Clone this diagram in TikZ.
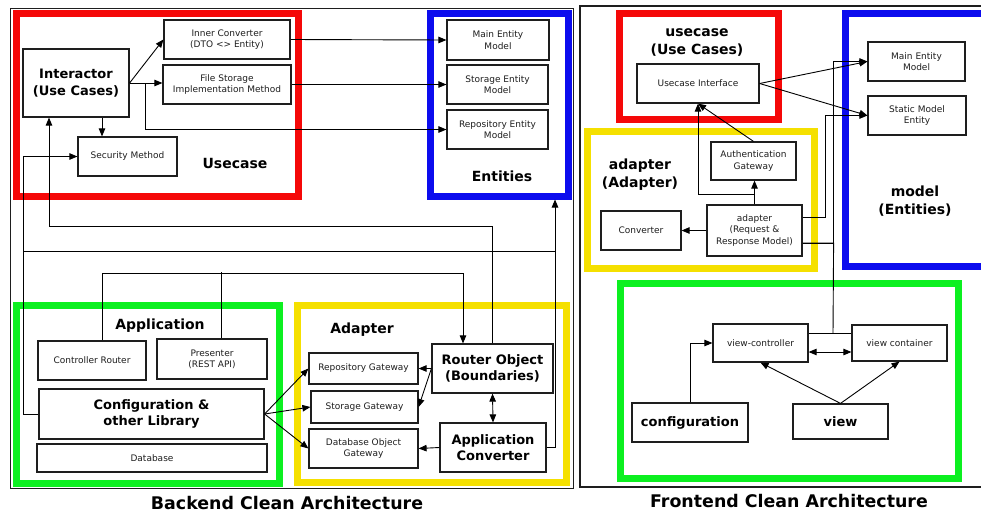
\documentclass[tikz,border=0pt]{standalone}
\usepackage{fontspec}
\setmainfont{DejaVu Sans}
\usetikzlibrary{arrows.meta,calc}
\definecolor{cred}{RGB}{245,8,8}
\definecolor{cblue}{RGB}{12,12,238}
\definecolor{cgreen}{RGB}{12,240,32}
\definecolor{cyellow}{RGB}{245,224,0}
\definecolor{ink}{RGB}{30,30,30}
\begin{document}
\begin{tikzpicture}[x=1pt,y=-1pt,
 box/.style={draw=ink, line width=1.2pt, fill=white, inner sep=0pt, align=center, font=\fontsize{9}{11.3}\selectfont, text=ink},
 bbox/.style={box, font=\fontsize{13}{16.5}\selectfont\bfseries, text=black},
 wh/.style 2 args={minimum width=#1pt, minimum height=#2pt},
 layer/.style={draw=#1, line width=7pt, inner sep=0pt},
 arr/.style={line width=0.9pt, -{Triangle[length=8pt,width=6.5pt]}},
 dbl/.style={line width=0.9pt, {Triangle[length=8pt,width=6.5pt]}-{Triangle[length=8pt,width=6.5pt]}},
 ln/.style={line width=0.9pt},
 lbl/.style={font=\fontsize{14}{18}\selectfont\bfseries, align=center},
 ttl/.style={font=\fontsize{17.4}{20}\selectfont\bfseries},
 frame/.style={draw=ink, line width=1.2pt}
]
\useasboundingbox (0,0) rectangle (981,512);
\fill[white] (0,0) rectangle (981,512);

% outer frames
\draw[frame] (10.5,8.5) rectangle (573.5,488.5);
\draw[frame] (580,6) rectangle (995,487);

% layers backend
\node[layer=cred, wh={282}{183}] (lred) at (157,104.5) {};
\node[layer=cblue, wh={138}{182.5}] (ent) at (499,104.75) {};
\node[layer=cgreen, wh={263}{177.5}] (lgreen) at (148,394.25) {};
\node[layer=cyellow, wh={269.5}{177}] (lyellow) at (431.75,394) {};

% layers frontend
\node[layer=cred, wh={158.5}{106}] (fred) at (698.75,66.5) {};
\node[layer=cyellow, wh={227}{136.5}] (fyellow) at (700.5,199.75) {};
\node[layer=cblue, wh={144.5}{253}] (fblue) at (917.75,140) {};
\node[layer=cgreen, wh={337.5}{195}] (fgreen) at (789.25,381) {};

% backend nodes
\node[box, wh={126}{39}] (ic) at (227,39.5) {Inner Converter\\(DTO <> Entity)};
\node[box, wh={128}{39}] (fs) at (227,84.5) {File Storage\\Implementation Method};
\node[bbox, wh={106}{68}] (inter) at (76,83) {Interactor\\(Use Cases)};
\node[box, wh={99}{39}] (sec) at (127.5,156.5) {Security Method};
\node[box, wh={102}{40}] (mem) at (498,40) {Main Entity\\Model};
\node[box, wh={101}{39}] (sem) at (497.5,84.5) {Storage Entity\\Model};
\node[box, wh={101}{39}] (rem) at (497.5,129.5) {Repository Entity\\Model};
\node[box, wh={108}{39}] (cr) at (92,360.5) {Controller Router};
\node[box, wh={110}{40}] (pres) at (212,359) {Presenter\\(REST API)};
\node[bbox, wh={225}{50}] (conf) at (151.5,414) {Configuration \&\\other Library};
\node[box, wh={230}{28}] (db) at (152,458) {Database};
\node[box, wh={109}{31}] (rg) at (363.5,368.5) {Repository Gateway};
\node[box, wh={107}{32}] (sg) at (364.5,407) {Storage Gateway};
\node[box, wh={109}{39}] (dog) at (363.5,448.5) {Database Object\\Gateway};
\node[bbox, wh={121}{49}] (ro) at (492.5,368.5) {Router Object\\(Boundaries)};
\node[bbox, wh={106}{49}] (ac) at (493,447.5) {Application\\Converter};

% backend labels
\node[lbl] (lu) at (235,163) {Usecase};
\node[lbl] (le) at (502,176) {Entities};
\node[lbl] (la) at (160,326) {Application};
\node[lbl] (lad) at (362,330) {Adapter};
\node[ttl] (t1) at (287,503) {Backend Clean Architecture};

% backend connectors
\draw[arr] (inter.east) -- (ic.west);
\draw[arr] (inter.east) -- (inter.east -| fs.west);
\draw[arr] (inter.east) -- ++(16,0) |- (rem.west);
\draw[arr] (ic.east) -- (mem.west);
\draw[arr] (fs.east) -- (sem.west);
\draw[arr] ([xshift=26pt]inter.south) -- ([xshift=26pt]inter.south |- sec.north);
\draw[arr] (conf.west) -- ++(-15,0) |- (sec.west);
\draw[arr] (ac.east) -| ([xshift=56pt]ent.south);
\coordinate (j1) at (24,251);
\coordinate (j2) at (555,251);
\draw[ln] (j1) -- (j2);
\draw[arr] (ro.north) -- ++(0,-117) -| ([xshift=-27pt]inter.south);
\draw[arr] ([xshift=10pt]cr.north) |- ([xshift=-29.5pt]ro.north |- 0,273) -- ([xshift=-29.5pt]ro.north);
\draw[ln] ([xshift=9pt]pres.north) -- ++(0,-66);
\draw[arr] (conf.east) -- (rg.west);
\draw[arr] (conf.east) -- (sg.west);
\draw[arr] (conf.east) -- (dog.west);
\draw[arr] (ro.west) -- (rg.east);
\draw[arr] (ro.west) -- (sg.east);
\draw[dbl] (ro.south) -- (ac.north);
\draw[arr] (ac.west) -- (dog.east);

% frontend nodes
\node[box, wh={122}{39}] (ui) at (698,83.5) {Usecase Interface};
\node[box, wh={97}{39}] (fmem) at (916.5,61.5) {Main Entity\\Model};
\node[box, wh={98}{39}] (sme) at (917,115.5) {Static Model\\Entity};
\node[box, wh={85}{38}] (ag) at (753.5,161) {Authentication\\Gateway};
\node[box, wh={95}{51}] (ad) at (754.5,230.5) {adapter\\(Request \&\\Response Model)};
\node[box, wh={80}{39}] (conv) at (641,230.5) {Converter};
\node[box, wh={95}{38}] (vc) at (760.5,343) {view-controller};
\node[box, wh={95}{36}] (vcon) at (899.5,343) {view container};
\node[bbox, wh={116}{39}] (fconf) at (690,422.5) {configuration};
\node[bbox, wh={95}{35}] (view) at (840.5,421.5) {view};

% frontend labels
\node[lbl] (lfu) at (697,42.5) {usecase\\(Use Cases)};
\node[lbl] (lfa) at (640,174.5) {adapter\\(Adapter)};
\node[lbl] (lfm) at (915,201.5) {model\\(Entities)};
\node[ttl] (t2) at (789,501) {Frontend Clean Architecture};

% frontend connectors
\draw[arr] (ui.east) -- (fmem.west);
\draw[arr] (ui.east) -- (sme.west);
\draw[arr] (ag.north) -- (ui.south);
\draw[arr] (ad.north) -- (ad.north |- ag.south);
\draw[arr] (ad.north) -- ++(0,-10) -| (ui.south);
\draw[arr] (ad.west) -- (conv.east);
\draw[arr] ([yshift=13.5pt]ad.east) -- ++(23,0) |- (sme.west);
\draw[arr] ([yshift=-12.5pt]ad.east) -- ++(31,0) |- (fmem.west);
\coordinate (fj) at (833,333);
\draw[ln] ([yshift=-12.5pt]ad.east) -- ++(31,0) -- (fj);
\draw[ln] ([yshift=10pt]vc.east) -- ([yshift=10pt]vcon.west);
\draw[dbl] ([yshift=-9pt]vc.east) -- ([yshift=-9pt]vcon.west);
\draw[arr] (fconf.north) |- (vc.west);
\draw[arr] (view.north) -- (vc.south);
\draw[arr] (view.north) -- (vcon.south);
\end{tikzpicture}
\end{document}
